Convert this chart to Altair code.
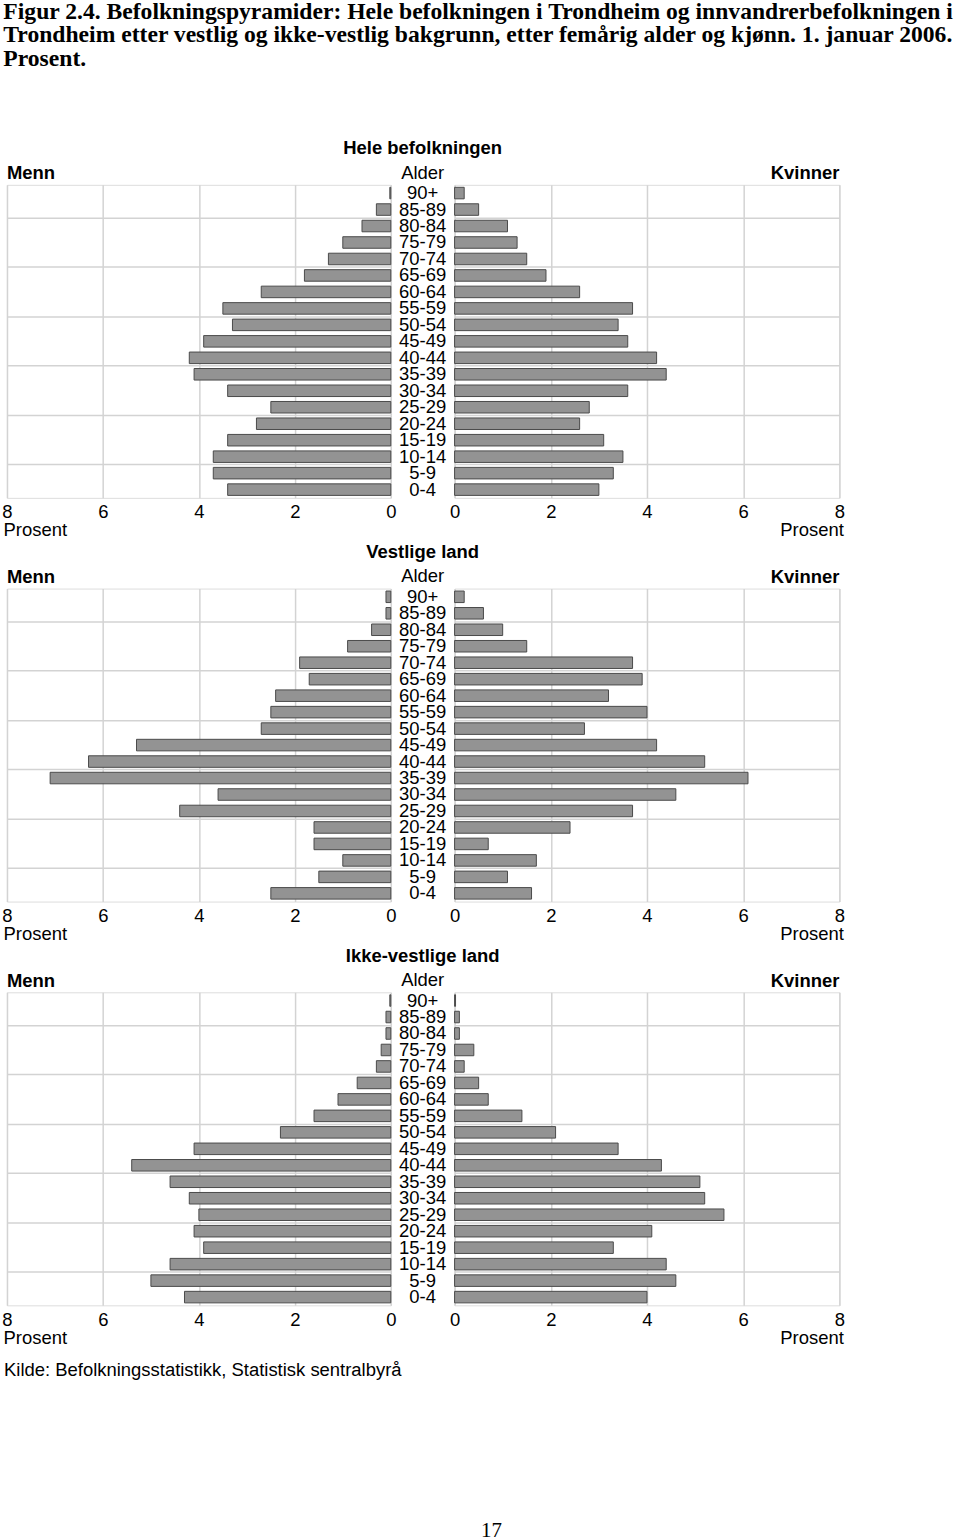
import altair as alt
import pandas as pd

ages = ["90+", "85-89", "80-84", "75-79", "70-74", "65-69", "60-64", "55-59", "50-54",
        "45-49", "40-44", "35-39", "30-34", "25-29", "20-24", "15-19", "10-14", "5-9", "0-4"]
grid_ages = ["80-84", "65-69", "50-54", "35-39", "20-24", "5-9"]
x_ticks = [0, 2, 4, 6, 8]

hele_menn = [0.02, 0.3, 0.6, 1.0, 1.3, 1.8, 2.7, 3.5, 3.3, 3.9, 4.2, 4.1, 3.4, 2.5, 2.8, 3.4, 3.7, 3.7, 3.4]
hele_kvinner = [0.2, 0.5, 1.1, 1.3, 1.5, 1.9, 2.6, 3.7, 3.4, 3.6, 4.2, 4.4, 3.6, 2.8, 2.6, 3.1, 3.5, 3.3, 3.0]
vest_menn = [0.1, 0.1, 0.4, 0.9, 1.9, 1.7, 2.4, 2.5, 2.7, 5.3, 6.3, 7.1, 3.6, 4.4, 1.6, 1.6, 1.0, 1.5, 2.5]
vest_kvinner = [0.2, 0.6, 1.0, 1.5, 3.7, 3.9, 3.2, 4.0, 2.7, 4.2, 5.2, 6.1, 4.6, 3.7, 2.4, 0.7, 1.7, 1.1, 1.6]
ikke_menn = [0.02, 0.1, 0.1, 0.2, 0.3, 0.7, 1.1, 1.6, 2.3, 4.1, 5.4, 4.6, 4.2, 4.0, 4.1, 3.9, 4.6, 5.0, 4.3]
ikke_kvinner = [0.02, 0.1, 0.1, 0.4, 0.2, 0.5, 0.7, 1.4, 2.1, 3.4, 4.3, 5.1, 5.2, 5.6, 4.1, 3.3, 4.4, 4.6, 4.0]

panel_titles = ["Hele befolkningen", "Vestlige land", "Ikke-vestlige land"]
fig_title = ["Figur 2.4. Befolkningspyramider: Hele befolkningen i Trondheim og innvandrerbefolkningen i",
             "Trondheim etter vestlig og ikke-vestlig bakgrunn, etter femårig alder og kjønn. 1. januar 2006.",
             "Prosent."]
source = "Kilde: Befolkningsstatistikk, Statistisk sentralbyrå"
page_no = "17"

FONT = "Liberation Sans"
FS = 18.5
GRID = "#d3d3d3"
BAR = "#939393"
EDGE = "#4a4a4a"
H = 314


def y_enc(with_grid=True):
    scale = alt.Scale(domain=ages, paddingInner=0, paddingOuter=0)
    if with_grid:
        axis = alt.Axis(title=None, labels=False, ticks=False, domain=False, grid=True,
                        bandPosition=0, values=grid_ages, gridColor=GRID, gridWidth=1.5)
    else:
        axis = None
    return alt.Y("Alder:N", scale=scale, axis=axis, sort=ages)


def side(df, field, reverse, width, title, anchor, title_x, title_align):
    return alt.Chart(df).mark_bar(height={"band": 0.7}, fill=BAR, stroke=EDGE, strokeWidth=1).encode(
        x=alt.X(f"{field}:Q", scale=alt.Scale(domain=[0, 8], reverse=reverse, nice=False),
                axis=alt.Axis(values=x_ticks, title="Prosent", ticks=False, domain=False,
                              grid=True, gridColor=GRID, gridWidth=1.5,
                              labelFont=FONT, labelFontSize=FS, labelColor="black", labelFlush=False,
                              labelPadding=5,
                              titleFont=FONT, titleFontSize=FS, titleFontWeight="normal", titleColor="black",
                              titleX=title_x, titleY=23, titleAlign=title_align, titleBaseline="top")),
        y=y_enc(True),
    ).properties(width=width, height=H,
                 title=alt.TitleParams(title, anchor=anchor, frame="group", font=FONT, fontSize=FS,
                                       fontWeight="bold", color="black", offset=2))


def pyramid(name, men, women):
    df = pd.DataFrame({"Alder": ages, "Menn": men, "Kvinner": women})
    left = side(df, "Menn", True, 385, "Menn", "start", -4, "left")
    right = side(df, "Kvinner", False, 386, "Kvinner", "end", 390, "right")
    mid = alt.Chart(df).mark_text(font=FONT, fontSize=FS, color="black").encode(
        y=y_enc(False), text="Alder:N"
    ).properties(width=64, height=H, view=alt.ViewBackground(strokeOpacity=0),
                 title=alt.TitleParams(name, subtitle="Alder", anchor="middle", font=FONT, fontSize=FS,
                                       fontWeight="bold", color="black", subtitleFont=FONT,
                                       subtitleFontSize=FS, subtitleColor="black", subtitlePadding=6,
                                       offset=2))
    return alt.hconcat(left, mid, right, spacing=0, bounds="flush")


rows = [pyramid(panel_titles[0], hele_menn, hele_kvinner),
        pyramid(panel_titles[1], vest_menn, vest_kvinner),
        pyramid(panel_titles[2], ikke_menn, ikke_kvinner)]

footer = alt.layer(
    alt.Chart(pd.DataFrame({"t": [source]})).mark_text(font=FONT, fontSize=FS, align="left",
                                                        baseline="middle", color="black").encode(
        text="t:N", x=alt.value(-3), y=alt.value(20)),
    alt.Chart(pd.DataFrame({"t": [page_no]})).mark_text(font="Liberation Serif", fontSize=21, align="center",
                                                         baseline="middle", color="black").encode(
        text="t:N", x=alt.value(486), y=alt.value(181)),
).properties(width=835, height=192, view=alt.ViewBackground(strokeOpacity=0))

chart = alt.vconcat(*rows, footer, spacing=3).properties(
    title=alt.TitleParams(fig_title, anchor="start", font="Liberation Serif", fontSize=23.7, fontWeight="bold",
                          color="black", lineHeight=23.5, offset=69, dx=2),
    padding={"left": 1, "top": -3, "right": 5, "bottom": 0},
).configure_view(stroke=GRID, strokeWidth=1.5).configure(background="white")

chart.save("out.html", embed_options={"renderer": "svg", "actions": False})
